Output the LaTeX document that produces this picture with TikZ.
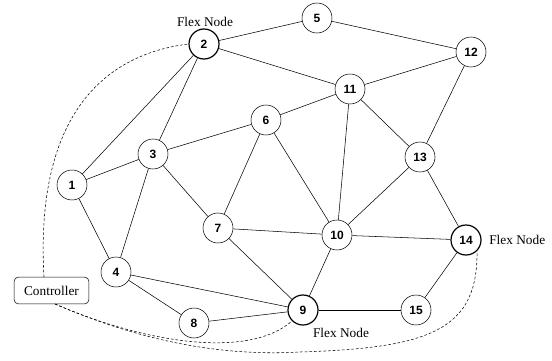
\documentclass[tikz,border=0pt]{standalone}
\usepackage{fontspec}
\setmainfont{Liberation Serif}
\setsansfont{Liberation Sans}
\tikzset{
  router/.style={circle,draw,thin,fill=white,minimum size=22.5pt,inner sep=0pt,
    font=\sffamily\bfseries\small},
  flexrouter/.style={router,line width=0.9pt},
  flexlabel/.style={font=\rmfamily},
  link/.style={thin},
  ctrllink/.style={thin,dash pattern=on 2pt off 1.5pt},
  ctrlbox/.style={draw,thin,rounded corners=3pt,minimum width=56pt,minimum height=20pt,
    inner sep=2pt,fill=white,font=\rmfamily},
}
\begin{document}
\begin{tikzpicture}[x=0.75pt,y=-0.75pt]
\useasboundingbox (0,0) rectangle (552,360);
% controller
\node [ctrlbox] (ctrl) at (51.5,290.5) {Controller};
\coordinate (cb) at (55,304);
\coordinate (ct) at (44,277);
\coordinate (mid) at (300,352);
% routers
\node [router] (n1) at (72,185) {1};
\node [flexrouter] (n2) at (204,44) {2};
\node [router] (n3) at (153,154) {3};
\node [router] (n4) at (116,272) {4};
\node [router] (n5) at (317,18) {5};
\node [router] (n6) at (266,120) {6};
\node [router] (n7) at (218,228) {7};
\node [router] (n8) at (194,323) {8};
\node [flexrouter] (n9) at (303,310) {9};
\node [router] (n10) at (337,235) {10};
\node [router] (n11) at (350,89) {11};
\node [router] (n12) at (471,52) {12};
\node [router] (n13) at (420,157) {13};
\node [flexrouter] (n14) at (466,240) {14};
\node [router] (n15) at (416,310) {15};
% labels
\node [flexlabel] (f2) at (205,22) {Flex Node};
\node [flexlabel] (f9) at (341,333) {Flex Node};
\node [flexlabel,anchor=west,inner sep=0pt] (f14) at (489,240) {Flex Node};
% links
\foreach \a/\b in {n1/n2,n1/n3,n1/n4,n2/n3,n2/n5,n2/n11,n3/n6,n3/n4,n3/n7,
  n5/n12,n6/n11,n6/n7,n6/n10,n11/n12,n11/n13,n11/n10,n12/n13,n13/n10,n13/n14,
  n7/n10,n7/n9,n4/n9,n4/n8,n8/n9,n10/n9,n10/n14,n9/n15,n14/n15}
  \draw [link] (\a) -- (\b);
% control links
\draw [ctrllink] (ct) .. controls (35,120) and (100,55) .. (n2.west);
\draw [ctrllink] (cb) .. controls (150,345) and (250,358) .. (n9.south west);
\draw [ctrllink] (cb) .. controls (150,345) and (230,356) .. (mid)
  .. controls (430,348) and (478,330) .. (n14.south east);
\end{tikzpicture}
\end{document}
